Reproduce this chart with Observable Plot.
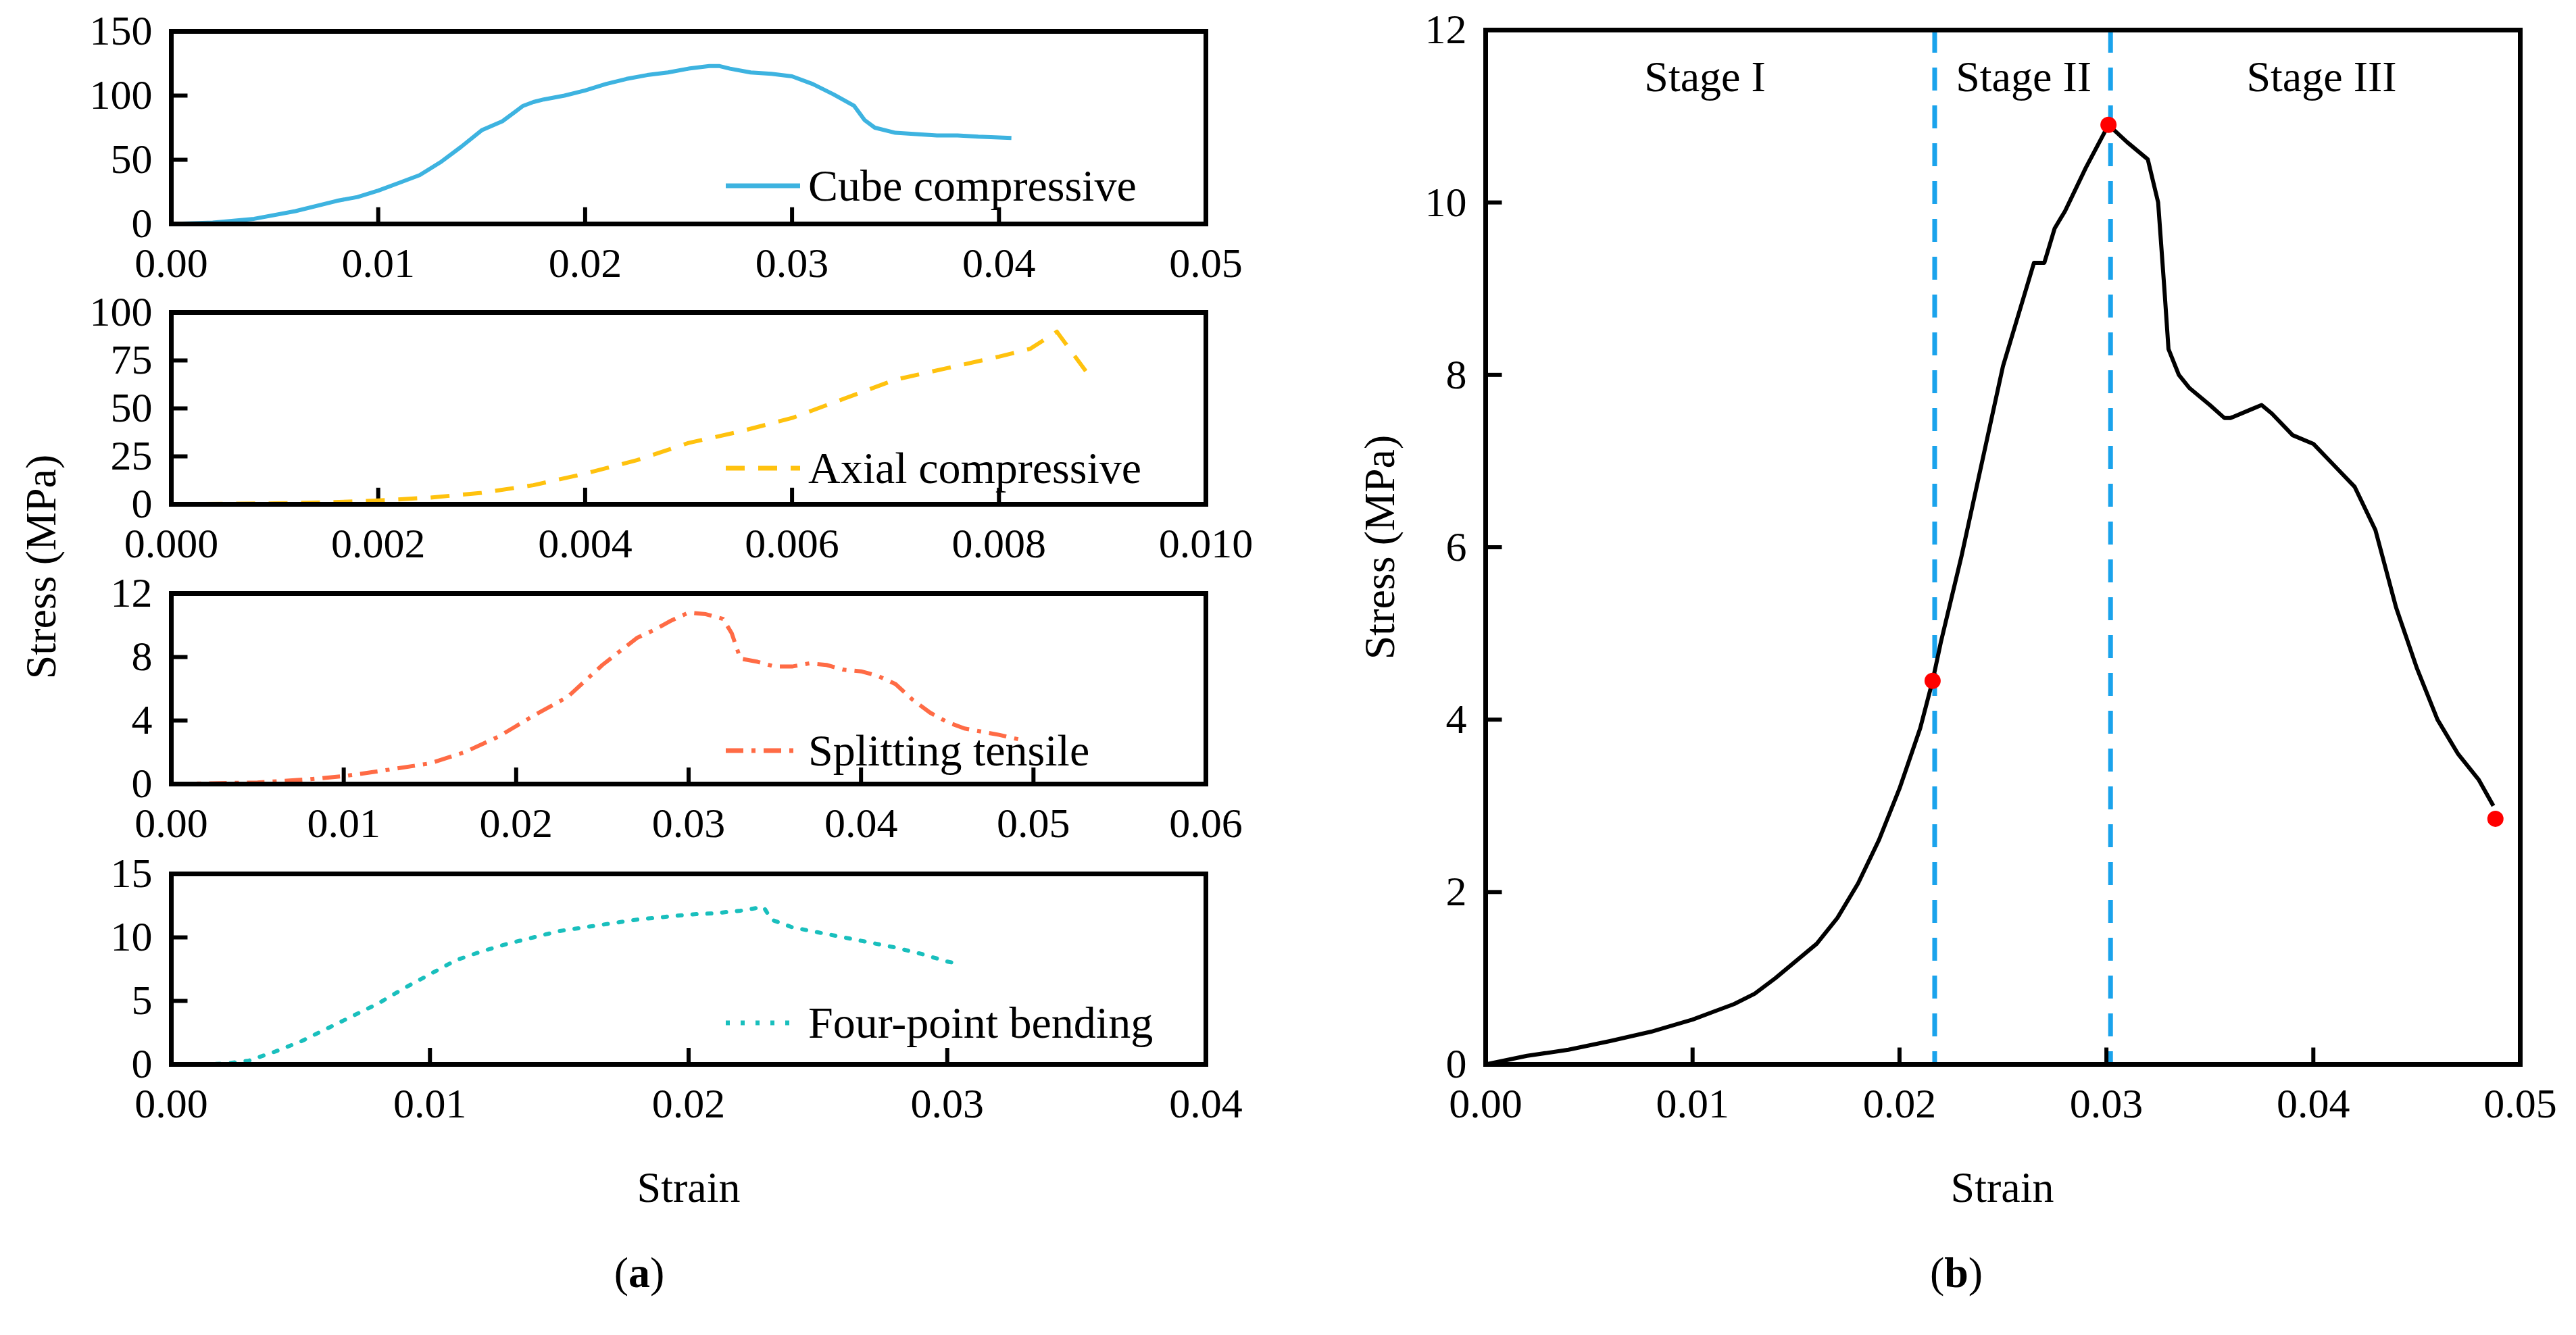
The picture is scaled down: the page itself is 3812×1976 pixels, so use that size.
<!DOCTYPE html>
<html><head><meta charset="utf-8">
<script src="https://cdn.jsdelivr.net/npm/d3@7"></script>
<script src="https://cdn.jsdelivr.net/npm/@observablehq/plot@0.6"></script>
<style>
body{margin:0;background:#fff;font-family:'Liberation Serif','Times New Roman','DejaVu Serif',serif;}
#root{position:relative;width:3812px;height:1976px;overflow:hidden;font-family:'Liberation Serif','Times New Roman','DejaVu Serif',serif;}
.abs{position:absolute;}
.lbl{position:absolute;font-size:64px;color:#000;white-space:nowrap;transform:translate(-50%,-50%);}
.rot{transform:translate(-50%,-50%) rotate(-90deg);}
svg text{font-family:'Liberation Serif','Times New Roman','DejaVu Serif',serif !important;}
</style></head><body><div id="root"></div>
<script>
// ---- data ----
const cubeStrain=[0,0.002,0.004,0.006,0.008,0.009,0.010,0.011,0.012,0.013,0.014,0.015,0.016,0.017,0.0175,0.018,0.019,0.020,0.021,0.022,0.023,0.024,0.025,0.026,0.0265,0.027,0.028,0.029,0.030,0.031,0.032,0.033,0.0335,0.034,0.035,0.036,0.037,0.038,0.039,0.0406];
const cubeStress=[0,1,4,10,18,21,26,32,38,48,60,73,80,92,95,97,100,104,109,113,116,118,121,123,123,121,118,117,115,109,101,92,81,75,71,70,69,69,68,67];
const axialStrain=[0,0.001,0.0015,0.002,0.0025,0.003,0.0035,0.004,0.0045,0.005,0.0055,0.006,0.0065,0.007,0.0075,0.008,0.0083,0.00856,0.0086,0.0089];
const axialStress=[0,0.5,1,2,3.5,6,10,16,23,32,38,45,55,65,71,77,81,90,87,65];
const splitStrain=[0,0.005,0.008,0.010,0.012,0.015,0.017,0.019,0.021,0.023,0.025,0.027,0.028,0.029,0.030,0.031,0.032,0.0325,0.033,0.034,0.035,0.036,0.037,0.038,0.039,0.040,0.041,0.042,0.043,0.044,0.045,0.046,0.047,0.048,0.0492];
const splitStress=[0,0.1,0.3,0.5,0.8,1.3,2,3,4.3,5.5,7.5,9.2,9.7,10.3,10.8,10.7,10.4,9.5,7.9,7.7,7.4,7.4,7.6,7.5,7.2,7.1,6.8,6.3,5.3,4.5,3.9,3.5,3.3,3.1,2.8];
const bendStrain=[0,0.002,0.003,0.004,0.005,0.006,0.007,0.008,0.009,0.010,0.011,0.012,0.013,0.014,0.015,0.016,0.017,0.018,0.019,0.020,0.021,0.022,0.0229,0.0232,0.024,0.025,0.026,0.027,0.028,0.029,0.030,0.0305];
const bendStress=[0,0.05,0.3,1,1.8,2.8,3.8,4.8,6,7.1,8.2,8.9,9.5,10,10.5,10.8,11.1,11.4,11.6,11.8,11.9,12.1,12.4,11.4,10.8,10.4,10,9.6,9.2,8.7,8.1,7.9];
const bStrain=[0,0.002,0.004,0.006,0.008,0.010,0.012,0.013,0.014,0.015,0.016,0.017,0.018,0.019,0.020,0.021,0.0216,0.022,0.023,0.024,0.025,0.026,0.0265,0.027,0.0275,0.028,0.029,0.0301,0.031,0.0315,0.032,0.0325,0.0328,0.033,0.0335,0.034,0.035,0.0357,0.036,0.037,0.0375,0.038,0.039,0.040,0.041,0.042,0.043,0.044,0.045,0.046,0.047,0.048,0.0487];
const bStress=[0,0.1,0.17,0.27,0.38,0.52,0.7,0.82,1.0,1.2,1.4,1.7,2.1,2.6,3.2,3.9,4.45,4.9,5.9,7.0,8.1,8.9,9.3,9.3,9.7,9.9,10.4,10.9,10.7,10.6,10.5,10.0,9.0,8.3,8.0,7.85,7.65,7.5,7.5,7.6,7.65,7.55,7.3,7.2,6.95,6.7,6.2,5.3,4.6,4.0,3.6,3.3,3.0];
const keyStrain=[0.0216,0.0301,0.0488];
const keyStress=[4.45,10.9,2.85];
const stageBounds=[0.0217,0.0302];
const stageNames=["Stage I","Stage II","Stage III"];
const stageX=[0.0106,0.026,0.0404];
const subplots=[
 {name:"Cube compressive",x:cubeStrain,y:cubeStress,xd:[0,0.05],xt:[0,0.01,0.02,0.03,0.04,0.05],fmt:".2f",yd:[0,150],yt:[0,50,100,150],color:"#3db3e0",dash:null},
 {name:"Axial compressive",x:axialStrain,y:axialStress,xd:[0,0.01],xt:[0,0.002,0.004,0.006,0.008,0.010],fmt:".3f",yd:[0,100],yt:[0,25,50,75,100],color:"#ffc20e",dash:"28,20"},
 {name:"Splitting tensile",x:splitStrain,y:splitStress,xd:[0,0.06],xt:[0,0.01,0.02,0.03,0.04,0.05,0.06],fmt:".2f",yd:[0,12],yt:[0,4,8,12],color:"#ff6b45",dash:"26,12,6,12"},
 {name:"Four-point bending",x:bendStrain,y:bendStress,xd:[0,0.04],xt:[0,0.01,0.02,0.03,0.04],fmt:".2f",yd:[0,15],yt:[0,5,10,15],color:"#19bfbd",dash:"6,16"}
];
// ---- layout ----
const FONT="'Liberation Serif','Times New Roman','DejaVu Serif',serif";
const root=document.getElementById("root");
const ML=200,MR=80,MT=10,MB=110;
function place(el,l,t){el.classList.add("abs");el.style.left=l+"px";el.style.top=t+"px";root.appendChild(el);}
function panel(o,left,top,w,h,tickFrac,extra){
  const inner=o.xt.slice(1,-1), innerY=o.yt.slice(1,-1);
  const yspan=o.yd[1]-o.yd[0], xspan=o.xd[1]-o.xd[0];
  const p=Plot.plot({width:w+ML+MR,height:h+MT+MB,marginLeft:ML,marginRight:MR,marginTop:MT,marginBottom:MB,
    style:{fontFamily:FONT,fontSize:"64px",color:"#000",background:"transparent",overflow:"visible"},
    x:{domain:o.xd},y:{domain:o.yd},
    marks:[
      ...(extra||[]),
      Plot.ruleX(inner,{y1:o.yd[0],y2:o.yd[0]+yspan*tickFrac[0],strokeWidth:6,stroke:"#000"}),
      Plot.ruleY(innerY,{x1:o.xd[0],x2:o.xd[0]+xspan*tickFrac[1],strokeWidth:6,stroke:"#000"}),
      Plot.line(o.x.map((v,i)=>({s:v,t:o.y[i]})),{x:"s",y:"t",stroke:o.color,strokeWidth:o.sw||6,strokeDasharray:o.dash,strokeLinejoin:"round",strokeLinecap:o.dash&&o.dash.startsWith("6,")?"round":"butt"}),
      ...(o.after||[]),
      Plot.frame({stroke:"#000",strokeWidth:7}),
      Plot.axisX({ticks:o.xt,tickFormat:d3.format(o.fmt),tickSize:0,tickPadding:34,label:null,fontSize:62}),
      Plot.axisY({ticks:o.yt,tickSize:0,tickPadding:28,label:null,fontSize:62})
    ]});
  place(p,left-ML,top-MT);
}
const tops=[46,462,878,1293], bots=[331,746,1160,1575];
subplots.forEach((o,i)=>{
  panel(o,253,tops[i],1531,bots[i]-tops[i],[0.085,0.016]);
  const ly=[275,693,1111,1514][i];
  const ns="http://www.w3.org/2000/svg";
  const s=document.createElementNS(ns,"svg");s.setAttribute("width",120);s.setAttribute("height",20);
  const l=document.createElementNS(ns,"line");l.setAttribute("x1",4);l.setAttribute("x2",114);l.setAttribute("y1",10);l.setAttribute("y2",10);
  l.setAttribute("stroke",o.color);l.setAttribute("stroke-width",7);if(o.dash)l.setAttribute("stroke-dasharray",o.dash);
  s.appendChild(l);place(s,1070,ly-10);
  const t=document.createElement("div");t.className="lbl";t.textContent=o.name;t.style.transform="translate(0,-50%)";t.style.fontSize="66px";t.style.left="1196px";t.style.top=ly+"px";root.appendChild(t);
});
// panel b
panel({x:bStrain,y:bStress,xd:[0,0.05],xt:[0,0.01,0.02,0.03,0.04,0.05],fmt:".2f",yd:[0,12],yt:[0,2,4,6,8,10,12],color:"#000",dash:null,sw:6,
  after:[Plot.dot(keyStrain.map((v,i)=>({s:v,t:keyStress[i]})),{x:"s",y:"t",r:12,fill:"#ff0000",stroke:"none"}),
         Plot.text(stageNames.map((n,i)=>({n,s:stageX[i]})),{x:"s",y:11.45,text:"n",fontSize:64,fill:"#000"})]},
  2198,44,1531,1531,[0.016,0.016],
  [Plot.ruleX(stageBounds,{stroke:"#1aa3ec",strokeWidth:7,strokeDasharray:"34,22"})]);
function label(txt,x,y,rot,html){const d=document.createElement("div");d.className="lbl"+(rot?" rot":"");if(html)d.innerHTML=txt;else d.textContent=txt;d.style.left=x+"px";d.style.top=y+"px";root.appendChild(d);}
label("Stress (MPa)",61,839,true);
label("Stress (MPa)",2042,810,true);
label("Strain",1019,1758);
label("Strain",2963,1758);
label("(<b>a</b>)",946,1884,false,true);
label("(<b>b</b>)",2895,1884,false,true);
</script></body></html>
